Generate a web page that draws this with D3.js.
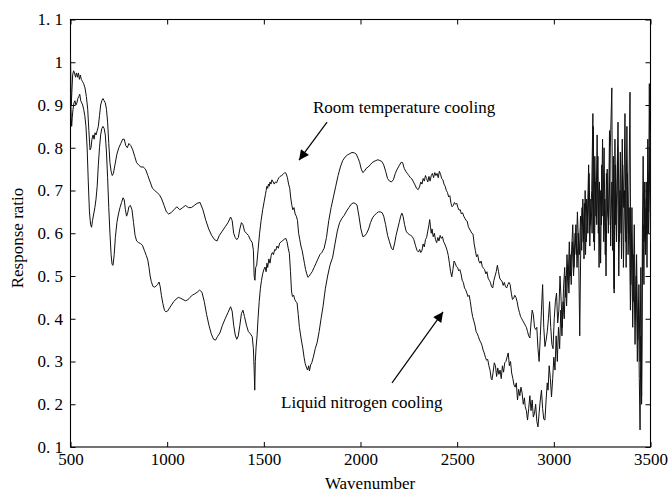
<!DOCTYPE html>
<html>
<head>
<meta charset="utf-8">
<script src="https://cdn.jsdelivr.net/npm/d3@7/dist/d3.min.js"></script>
<style>
  html, body { margin: 0; padding: 0; background: #fff; }
  svg { display: block; }
</style>
</head>
<body>
<svg id="chart" width="670" height="495"></svg>
<script>
// ---------------- data ----------------
const xTicks = [500, 1000, 1500, 2000, 2500, 3000, 3500];
const xTickLabels = ["500", "1000", "1500", "2000", "2500", "3000", "3500"];
const yTicks = [0.1, 0.2, 0.3, 0.4, 0.5, 0.6, 0.7, 0.8, 0.9, 1.0, 1.1];
const yTickLabels = ["0. 1", "0. 2", "0. 3", "0. 4", "0. 5", "0. 6", "0. 7", "0. 8", "0. 9", "1", "1. 1"];
const xTitle = "Wavenumber";
const yTitle = "Response ratio";

// Room temperature cooling  [wavenumber, response ratio]
const roomCooling = [
[500,1.02],[502,0.95],[504,0.90],[507,0.93],[511,0.97],[516,0.98],[521,0.975],[526,0.965],[531,0.975],[536,0.965],[541,0.975],[546,0.96],[551,0.97],[556,0.96],[562,0.955],[568,0.95],[575,0.94],[582,0.92],[589,0.89],[595,0.84],[601,0.795],[606,0.80],[611,0.82],[617,0.83],[622,0.82],[627,0.835],[632,0.83],[638,0.84],[644,0.85],[650,0.875],[656,0.90],[662,0.91],[668,0.915],[674,0.91],[680,0.905],[686,0.89],[692,0.86],[698,0.81],[704,0.765],[710,0.745],[716,0.735],[722,0.74],[730,0.76],[740,0.785],[750,0.80],[760,0.81],[770,0.82],[778,0.82],[786,0.805],[794,0.80],[802,0.81],[812,0.805],[822,0.795],[832,0.78],[842,0.765],[852,0.76],[864,0.755],[876,0.755],[888,0.75],[900,0.735],[912,0.72],[924,0.705],[936,0.70],[948,0.695],[960,0.69],[972,0.68],[984,0.665],[996,0.65],[1008,0.645],[1020,0.648],[1035,0.655],[1050,0.662],[1065,0.655],[1080,0.66],[1095,0.665],[1110,0.66],[1125,0.66],[1140,0.665],[1155,0.67],[1170,0.672],[1185,0.655],[1200,0.63],[1215,0.61],[1230,0.595],[1245,0.585],[1258,0.582],[1270,0.595],[1285,0.605],[1300,0.615],[1315,0.625],[1328,0.638],[1336,0.63],[1344,0.60],[1352,0.59],[1360,0.585],[1368,0.59],[1376,0.61],[1384,0.625],[1392,0.62],[1400,0.605],[1410,0.60],[1420,0.595],[1430,0.585],[1440,0.578],[1446,0.56],[1450,0.50],[1454,0.49],[1458,0.52],[1463,0.525],[1470,0.56],[1478,0.60],[1486,0.63],[1494,0.655],[1502,0.675],[1508,0.69],[1512,0.70],[1516,0.71],[1520,0.705],[1524,0.715],[1528,0.71],[1532,0.72],[1537,0.715],[1542,0.725],[1548,0.72],[1554,0.715],[1560,0.72],[1566,0.718],[1572,0.725],[1578,0.73],[1584,0.733],[1592,0.735],[1600,0.738],[1608,0.742],[1615,0.74],[1622,0.73],[1628,0.715],[1634,0.705],[1640,0.68],[1645,0.665],[1650,0.655],[1656,0.66],[1662,0.645],[1668,0.64],[1674,0.63],[1680,0.60],[1686,0.585],[1692,0.57],[1698,0.56],[1704,0.545],[1710,0.53],[1716,0.515],[1722,0.505],[1728,0.497],[1735,0.50],[1742,0.505],[1750,0.51],[1760,0.52],[1770,0.53],[1780,0.54],[1790,0.55],[1800,0.555],[1812,0.565],[1824,0.59],[1836,0.63],[1848,0.66],[1860,0.685],[1872,0.71],[1884,0.735],[1896,0.755],[1908,0.77],[1920,0.778],[1932,0.783],[1944,0.786],[1956,0.789],[1968,0.788],[1978,0.785],[1988,0.775],[1996,0.765],[2004,0.75],[2012,0.742],[2020,0.745],[2030,0.752],[2040,0.755],[2050,0.76],[2060,0.765],[2070,0.768],[2080,0.77],[2090,0.772],[2100,0.77],[2110,0.768],[2120,0.76],[2130,0.745],[2140,0.728],[2150,0.722],[2160,0.72],[2170,0.725],[2180,0.74],[2190,0.75],[2200,0.758],[2210,0.766],[2218,0.765],[2226,0.752],[2234,0.745],[2242,0.74],[2250,0.735],[2258,0.73],[2266,0.727],[2274,0.72],[2282,0.713],[2290,0.705],[2298,0.702],[2305,0.708],[2312,0.72],[2318,0.715],[2324,0.728],[2330,0.722],[2336,0.735],[2342,0.728],[2348,0.72],[2354,0.733],[2360,0.722],[2366,0.735],[2372,0.74],[2378,0.73],[2384,0.742],[2390,0.735],[2396,0.74],[2402,0.73],[2408,0.745],[2414,0.738],[2420,0.728],[2426,0.725],[2432,0.715],[2438,0.71],[2444,0.70],[2450,0.695],[2456,0.685],[2462,0.688],[2468,0.67],[2474,0.662],[2480,0.665],[2486,0.672],[2492,0.668],[2498,0.67],[2504,0.66],[2510,0.654],[2516,0.655],[2522,0.645],[2528,0.648],[2534,0.64],[2540,0.635],[2546,0.63],[2552,0.628],[2558,0.615],[2564,0.61],[2570,0.605],[2576,0.60],[2582,0.598],[2588,0.575],[2594,0.56],[2600,0.545],[2606,0.55],[2612,0.535],[2618,0.53],[2624,0.535],[2630,0.522],[2636,0.518],[2642,0.515],[2648,0.505],[2654,0.51],[2660,0.495],[2666,0.49],[2672,0.485],[2678,0.475],[2684,0.472],[2690,0.49],[2696,0.50],[2702,0.51],[2708,0.525],[2714,0.51],[2720,0.495],[2726,0.49],[2732,0.488],[2738,0.478],[2744,0.485],[2750,0.475],[2756,0.472],[2762,0.48],[2768,0.485],[2774,0.48],[2780,0.46],[2786,0.445],[2792,0.448],[2798,0.455],[2804,0.45],[2810,0.44],[2816,0.425],[2822,0.415],[2828,0.405],[2834,0.40],[2840,0.395],[2846,0.39],[2852,0.385],[2858,0.38],[2864,0.37],[2870,0.36],[2876,0.355],[2882,0.39],[2888,0.42],[2894,0.41],[2900,0.38],[2906,0.375],[2912,0.38],[2918,0.33],[2924,0.30],[2930,0.36],[2936,0.42],[2942,0.48],[2948,0.38],[2954,0.335],[2960,0.35],[2966,0.37],[2972,0.40],[2978,0.44],[2984,0.38],[2990,0.34],[2996,0.33],[3002,0.40],[3008,0.44],[3014,0.46],[3020,0.39],
[3026,0.42],[3032,0.50],[3038,0.44],[3044,0.38],[3050,0.47],[3056,0.52],[3062,0.45],[3068,0.55],[3074,0.49],[3080,0.58],[3086,0.50],[3092,0.56],[3098,0.62],[3104,0.52],[3110,0.60],[3116,0.55],[3122,0.65],[3128,0.57],[3134,0.36],[3140,0.60],[3146,0.66],[3152,0.58],[3158,0.67],[3164,0.55],[3170,0.68],[3176,0.60],[3182,0.74],[3188,0.62],[3196,0.70],[3202,0.88],[3206,0.58],[3212,0.78],[3218,0.64],[3224,0.83],[3230,0.60],[3236,0.72],[3242,0.53],[3248,0.76],[3254,0.64],[3260,0.80],[3266,0.55],[3272,0.74],[3278,0.65],[3284,0.62],[3292,0.80],[3300,0.94],[3304,0.56],[3308,0.78],[3312,0.47],[3316,0.82],[3320,0.62],[3326,0.70],[3332,0.86],[3338,0.58],[3344,0.79],[3350,0.54],[3356,0.76],[3362,0.66],[3368,0.88],[3374,0.52],[3380,0.74],[3386,0.60],[3394,0.93],[3398,0.48],[3404,0.66],[3410,0.44],[3416,0.62],[3422,0.40],[3428,0.55],[3434,0.35],[3440,0.48],[3446,0.30],[3450,0.52],[3454,0.20],[3458,0.60],[3462,0.78],[3466,0.58],[3470,0.68],[3474,0.55],[3478,0.72],[3482,0.60],[3486,0.82],[3490,0.65],[3494,0.95],[3497,0.72],[3500,0.84]
];

// Liquid nitrogen cooling  [wavenumber, response ratio]
const nitrogenCooling = [
[500,0.93],[502,0.90],[504,0.87],[506,0.85],[509,0.87],[513,0.89],[518,0.905],[523,0.91],[528,0.90],[533,0.905],[538,0.915],[543,0.92],[548,0.925],[553,0.91],[558,0.905],[563,0.90],[568,0.89],[574,0.875],[580,0.85],[586,0.80],[592,0.72],[598,0.65],[604,0.62],[609,0.614],[614,0.63],[620,0.645],[626,0.66],[632,0.68],[638,0.71],[644,0.76],[650,0.80],[656,0.83],[662,0.845],[668,0.85],[674,0.845],[680,0.83],[686,0.79],[692,0.73],[698,0.66],[704,0.60],[710,0.55],[715,0.527],[720,0.525],[726,0.55],[732,0.59],[740,0.625],[748,0.645],[756,0.66],[764,0.672],[772,0.683],[778,0.678],[784,0.655],[790,0.64],[796,0.648],[802,0.662],[810,0.665],[818,0.655],[826,0.625],[834,0.595],[842,0.582],[852,0.578],[862,0.576],[872,0.572],[882,0.56],[892,0.548],[900,0.537],[906,0.52],[912,0.50],[918,0.487],[926,0.476],[934,0.474],[942,0.476],[950,0.48],[958,0.486],[964,0.475],[970,0.455],[978,0.435],[986,0.42],[994,0.416],[1002,0.418],[1012,0.425],[1022,0.432],[1034,0.44],[1046,0.446],[1058,0.45],[1070,0.448],[1082,0.445],[1094,0.442],[1106,0.444],[1118,0.45],[1130,0.455],[1142,0.458],[1155,0.462],[1168,0.467],[1180,0.462],[1192,0.44],[1204,0.41],[1216,0.385],[1228,0.365],[1240,0.352],[1250,0.35],[1260,0.358],[1273,0.367],[1286,0.385],[1300,0.40],[1315,0.415],[1328,0.428],[1336,0.418],[1344,0.385],[1352,0.362],[1360,0.352],[1368,0.36],[1376,0.385],[1384,0.412],[1392,0.42],[1400,0.405],[1410,0.385],[1420,0.37],[1430,0.365],[1440,0.358],[1446,0.33],[1450,0.28],[1453,0.233],[1456,0.30],[1460,0.334],[1465,0.36],[1470,0.40],[1476,0.44],[1482,0.47],[1488,0.49],[1494,0.505],[1500,0.515],[1506,0.521],[1512,0.51],[1516,0.53],[1520,0.52],[1526,0.54],[1532,0.53],[1538,0.548],[1544,0.555],[1550,0.55],[1556,0.562],[1562,0.56],[1568,0.57],[1575,0.565],[1582,0.577],[1590,0.58],[1598,0.583],[1606,0.586],[1614,0.588],[1620,0.58],[1626,0.565],[1632,0.553],[1638,0.51],[1643,0.465],[1648,0.452],[1654,0.455],[1660,0.445],[1666,0.44],[1672,0.437],[1678,0.41],[1684,0.38],[1690,0.362],[1696,0.345],[1702,0.33],[1708,0.31],[1714,0.295],[1720,0.287],[1726,0.28],[1732,0.29],[1736,0.278],[1742,0.292],[1748,0.297],[1756,0.31],[1766,0.33],[1776,0.345],[1786,0.37],[1796,0.40],[1806,0.428],[1818,0.47],[1830,0.50],[1842,0.525],[1856,0.544],[1868,0.575],[1880,0.605],[1892,0.625],[1904,0.635],[1916,0.642],[1928,0.652],[1940,0.66],[1952,0.668],[1962,0.671],[1972,0.67],[1982,0.666],[1992,0.64],[2002,0.61],[2012,0.592],[2022,0.594],[2032,0.60],[2042,0.61],[2052,0.625],[2062,0.636],[2072,0.642],[2082,0.646],[2092,0.65],[2102,0.65],[2112,0.648],[2120,0.64],[2130,0.62],[2140,0.595],[2150,0.58],[2160,0.565],[2168,0.561],[2176,0.575],[2184,0.595],[2192,0.61],[2200,0.625],[2208,0.64],[2214,0.647],[2220,0.64],[2228,0.62],[2236,0.605],[2244,0.60],[2252,0.597],[2260,0.595],[2268,0.592],[2276,0.585],[2284,0.572],[2292,0.56],[2300,0.556],[2306,0.562],[2312,0.555],[2318,0.56],[2324,0.575],[2330,0.568],[2336,0.585],[2342,0.59],[2348,0.605],[2354,0.62],[2358,0.632],[2362,0.615],[2366,0.60],[2370,0.61],[2376,0.592],[2382,0.60],[2388,0.585],[2394,0.578],[2400,0.59],[2406,0.582],[2412,0.595],[2418,0.588],[2424,0.592],[2430,0.58],[2436,0.575],[2442,0.568],[2448,0.56],[2454,0.548],[2460,0.53],[2466,0.51],[2472,0.498],[2478,0.515],[2484,0.535],[2490,0.53],[2496,0.522],[2502,0.52],[2508,0.512],[2514,0.515],[2520,0.505],[2526,0.49],[2532,0.485],[2538,0.472],[2544,0.468],[2550,0.46],[2556,0.452],[2562,0.455],[2568,0.44],[2574,0.42],[2580,0.405],[2586,0.395],[2592,0.385],[2598,0.37],[2604,0.365],[2610,0.358],[2616,0.35],[2622,0.345],[2628,0.338],[2634,0.327],[2640,0.32],[2646,0.31],[2652,0.303],[2658,0.305],[2664,0.29],[2670,0.28],[2676,0.26],[2680,0.257],[2686,0.275],[2692,0.297],[2698,0.29],[2704,0.265],[2710,0.285],[2716,0.27],[2722,0.28],[2728,0.26],[2734,0.29],[2740,0.275],[2746,0.297],[2752,0.30],[2758,0.31],[2764,0.32],[2770,0.29],[2776,0.30],[2782,0.273],[2788,0.26],[2794,0.245],[2800,0.24],[2806,0.25],[2812,0.21],[2818,0.235],[2824,0.22],[2830,0.24],[2836,0.226],[2842,0.20],[2848,0.215],[2852,0.194],[2858,0.185],[2864,0.163],[2870,0.19],[2876,0.22],[2882,0.185],[2888,0.21],[2894,0.17],[2900,0.179],[2906,0.20],[2912,0.16],[2918,0.147],[2924,0.18],[2930,0.21],[2936,0.233],[2942,0.19],[2948,0.165],[2954,0.163],[2960,0.21],[2966,0.25],[2970,0.233],[2976,0.29],[2982,0.26],[2988,0.217],[2994,0.26],[3000,0.31],[3006,0.28],[3012,0.36],[3018,0.30],[3024,0.38],[3030,0.33],[3036,0.42],[3042,0.36],[3048,0.44],
[3054,0.40],[3060,0.50],[3066,0.43],[3072,0.52],[3078,0.46],[3084,0.55],[3090,0.48],[3096,0.58],[3102,0.50],[3108,0.56],[3114,0.62],[3120,0.52],[3126,0.60],[3132,0.55],[3138,0.64],[3144,0.56],[3150,0.68],[3156,0.54],[3162,0.70],[3168,0.58],[3174,0.64],[3180,0.76],[3186,0.57],[3192,0.68],[3198,0.60],[3204,0.85],[3210,0.56],[3216,0.72],[3222,0.62],[3228,0.78],[3234,0.52],[3240,0.70],[3246,0.62],[3252,0.82],[3258,0.58],[3264,0.68],[3270,0.50],[3276,0.75],[3282,0.60],[3288,0.84],[3294,0.57],[3300,0.72],[3306,0.62],[3312,0.46],[3318,0.76],[3324,0.58],[3330,0.80],[3336,0.50],[3342,0.70],[3348,0.60],[3354,0.82],[3360,0.52],[3366,0.70],[3372,0.58],[3378,0.85],[3384,0.55],[3390,0.66],[3396,0.42],[3402,0.60],[3408,0.38],[3414,0.55],[3420,0.34],[3426,0.50],[3432,0.30],[3438,0.44],[3442,0.26],[3446,0.14],[3450,0.36],[3454,0.22],[3458,0.50],[3462,0.62],[3466,0.48],[3470,0.72],[3474,0.58],[3478,0.66],[3482,0.52],[3486,0.74],[3490,0.60],[3494,0.70],[3497,0.80],[3500,0.58]
];

// annotations, in data units: label anchor and arrow (from -> to)
const annotations = [
  { text: "Room temperature cooling", at: [1754, 0.881], from: [1827, 0.860], to: [1682, 0.771] },
  { text: "Liquid nitrogen cooling",  at: [1589, 0.191], from: [2163, 0.250], to: [2427, 0.416] }
];

// ---------------- drawing ----------------
const FONT = "'Liberation Serif', 'Times New Roman', 'DejaVu Serif', serif";
const svg = d3.select("#chart");
const L = 70.5, R = 650.5, T = 19.5, B = 447;

const x = d3.scaleLinear().domain([500, 3500]).range([L, R]);
const y = d3.scaleLinear().domain([0.1, 1.1]).range([B, T]);

const defs = svg.append("defs");
defs.append("marker")
  .attr("id", "arrowhead")
  .attr("viewBox", "0 0 10 10")
  .attr("refX", 10).attr("refY", 5)
  .attr("markerUnits", "userSpaceOnUse")
  .attr("markerWidth", 13).attr("markerHeight", 10)
  .attr("orient", "auto")
  .append("path").attr("d", "M0,0 L10,5 L0,10 Z").attr("fill", "#000");

// axes (ticks pointing inward, MATLAB style box)
const styleAxis = g => {
  g.select(".domain").remove();
  g.selectAll(".tick line").attr("stroke", "#000").attr("stroke-width", 1);
  g.selectAll("text").attr("font-family", FONT).attr("font-size", 17).attr("fill", "#000");
};

svg.append("g").attr("transform", `translate(0,${B})`)
  .call(d3.axisBottom(x).tickValues(xTicks).tickSize(-5).tickPadding(6)
        .tickFormat((d, i) => xTickLabels[i]))
  .call(styleAxis);

svg.append("g").attr("transform", `translate(0,${T})`)
  .call(d3.axisTop(x).tickValues(xTicks).tickSize(-5).tickFormat(""))
  .call(styleAxis);

svg.append("g").attr("transform", `translate(${L},0)`)
  .call(d3.axisLeft(y).tickValues(yTicks).tickSize(-5).tickPadding(7.5)
        .tickFormat((d, i) => yTickLabels[i]))
  .call(styleAxis);

svg.append("g").attr("transform", `translate(${R},0)`)
  .call(d3.axisRight(y).tickValues(yTicks).tickSize(-5).tickFormat(""))
  .call(styleAxis);

// frame
svg.append("rect")
  .attr("x", L).attr("y", T).attr("width", R - L).attr("height", B - T)
  .attr("fill", "none").attr("stroke", "#000").attr("stroke-width", 1.1);

// curves
const line = d3.line().x(d => x(d[0])).y(d => y(d[1]));
[roomCooling, nitrogenCooling].forEach(series => {
  svg.append("path")
    .datum(series)
    .attr("d", line)
    .attr("fill", "none")
    .attr("stroke", "#111")
    .attr("stroke-width", 1)
    .attr("stroke-linejoin", "round");
});

// annotations
annotations.forEach(a => {
  svg.append("text")
    .attr("x", x(a.at[0])).attr("y", y(a.at[1]))
    .attr("font-family", FONT).attr("font-size", 17).attr("fill", "#000")
    .text(a.text);
  svg.append("line")
    .attr("x1", x(a.from[0])).attr("y1", y(a.from[1]))
    .attr("x2", x(a.to[0])).attr("y2", y(a.to[1]))
    .attr("stroke", "#000").attr("stroke-width", 1.2)
    .attr("marker-end", "url(#arrowhead)");
});

// axis titles
svg.append("text")
  .attr("x", 370).attr("y", 489)
  .attr("text-anchor", "middle")
  .attr("font-family", FONT).attr("font-size", 17).attr("fill", "#000")
  .text(xTitle);

svg.append("text")
  .attr("transform", "translate(23,238) rotate(-90)")
  .attr("text-anchor", "middle")
  .attr("font-family", FONT).attr("font-size", 17).attr("fill", "#000")
  .text(yTitle);
</script>
</body>
</html>
